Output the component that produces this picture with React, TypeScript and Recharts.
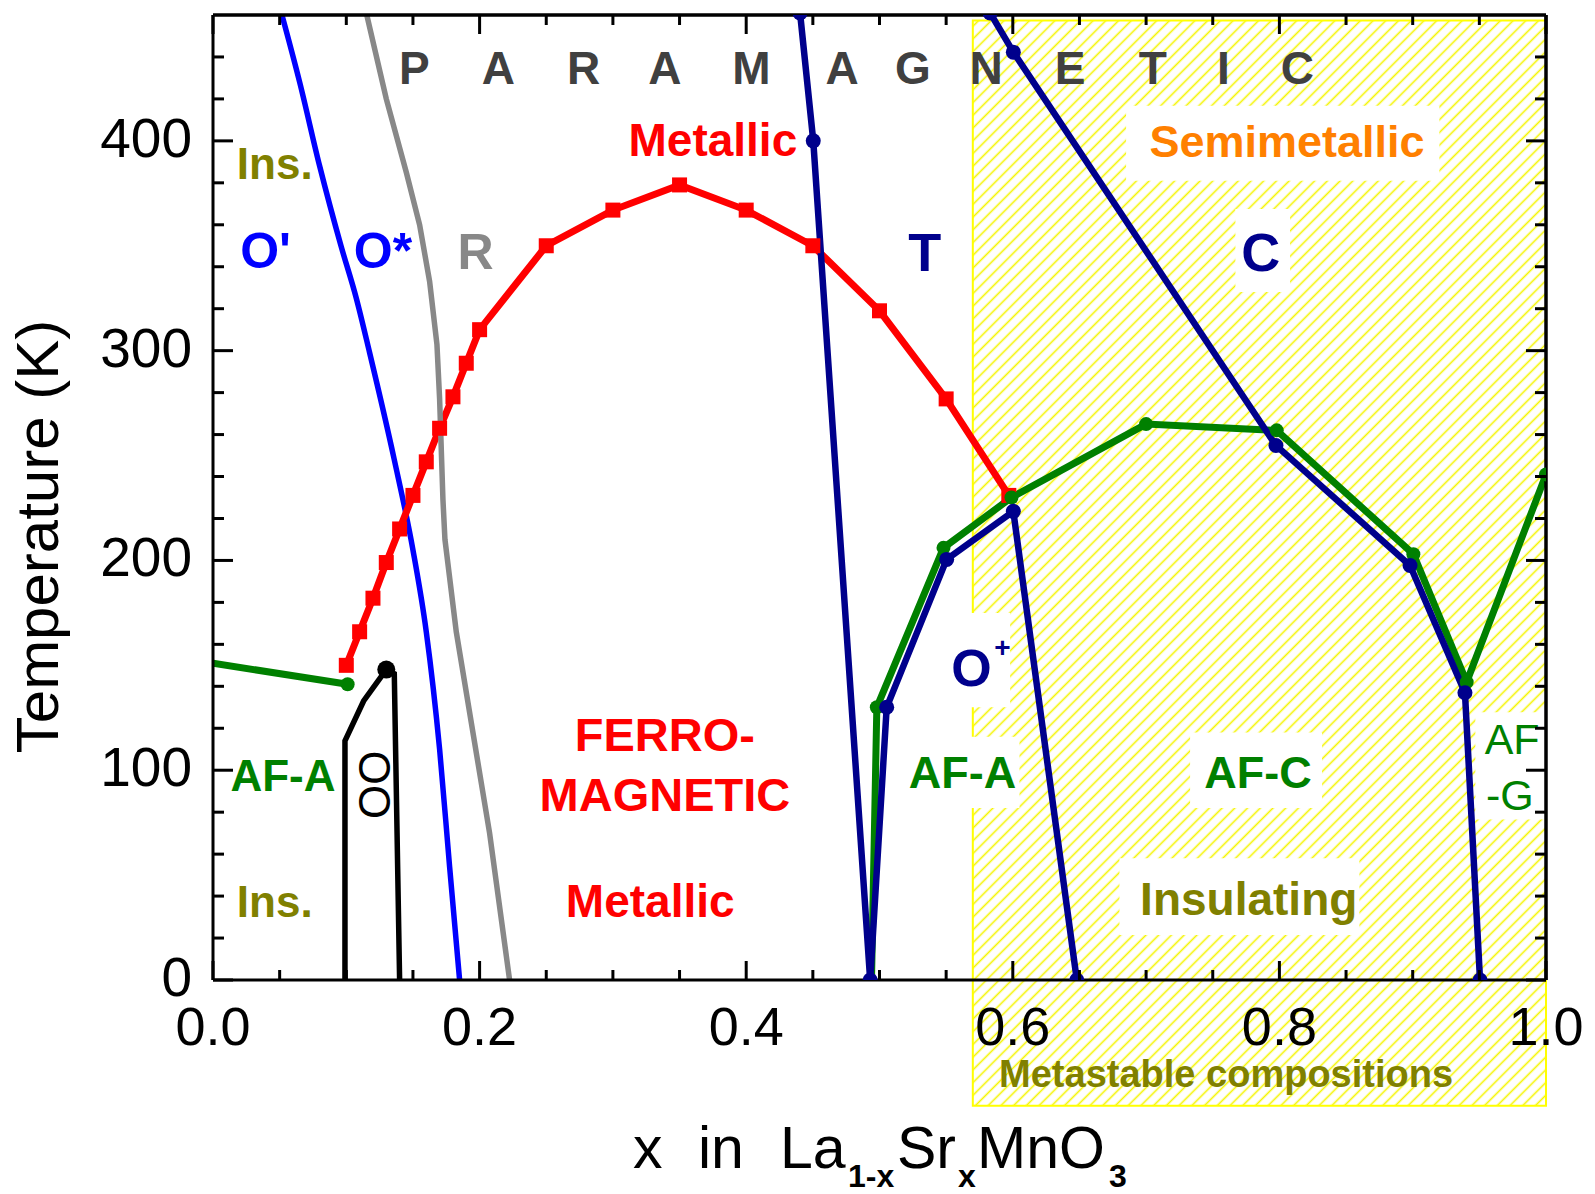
import React from 'react';
import { LineChart, Line, XAxis, YAxis, ReferenceArea, ReferenceDot, ReferenceLine, Label } from 'recharts';

const FONT = '"Liberation Sans", Arial, Helvetica, sans-serif';

// ---------- tick values ----------
const xTicks = [0, 0.05, 0.1, 0.15, 0.2, 0.25, 0.3, 0.35, 0.4, 0.45, 0.5, 0.55, 0.6, 0.65, 0.7, 0.75, 0.8, 0.85, 0.9, 0.95, 1.0];
const xMajor = [0, 0.2, 0.4, 0.6, 0.8, 1.0];
const yTicks = [0, 20, 40, 60, 80, 100, 120, 140, 160, 180, 200, 220, 240, 260, 280, 300, 320, 340, 360, 380, 400, 420, 440];
const yMajor = [0, 100, 200, 300, 400];

// ---------- series (x, T[K]) ----------
const ferroTc: [number, number][] = [
  [0.10, 150], [0.11, 166], [0.12, 182], [0.13, 199], [0.14, 215], [0.15, 231], [0.16, 247],
  [0.17, 263], [0.18, 278], [0.19, 294], [0.20, 310], [0.25, 350], [0.30, 367], [0.35, 379],
  [0.40, 367], [0.45, 350], [0.50, 319], [0.55, 277], [0.597, 231],
];
const oPrimeBoundary: [number, number][] = [
  [0.0513, 461], [0.065, 428], [0.080, 388], [0.096, 350], [0.1075, 325], [0.1175, 299], [0.136, 248],
  [0.150, 205], [0.160, 166], [0.170, 110], [0.1775, 54], [0.185, 0],
];
const rhombBoundary: [number, number][] = [
  [0.115, 461], [0.130, 420], [0.145, 385], [0.155, 360], [0.1625, 333], [0.168, 303],
  [0.170, 277], [0.1725, 229], [0.174, 210], [0.1825, 166], [0.195, 118], [0.2075, 70], [0.2225, 0],
];
const orbitalOrder: [number, number][] = [
  [0.099, 0], [0.099, 114], [0.113, 133], [0.130, 148], [0.136, 146], [0.140, 0],
];
const afaLeft: [number, number][] = [[0.0, 151], [0.101, 141]];
const afTn: [number, number][] = [
  [0.494, 0], [0.498, 130], [0.548, 206], [0.599, 230], [0.700, 265], [0.798, 262],
  [0.9005, 203], [0.9405, 142], [1.0, 241],
];
const structTO: [number, number][] = [
  [0.4404, 461], [0.4503, 400], [0.493, 0], [0.5054, 130], [0.5504, 200.5], [0.6004, 223.4], [0.648, 0],
];
const structTC: [number, number][] = [
  [0.583, 461], [0.6004, 442.3], [0.7974, 254.8], [0.898, 197.6], [0.9392, 136.9], [0.9505, 0],
];

const toPts = (a: [number, number][]) => a.map(([x, T]) => ({ x, T }));

// ---------- annotations ----------
type Ann = { t: string; x: number; y: number; c: string; s: number; b?: boolean; a?: 'start' | 'middle' | 'end'; rot?: boolean };
const paraLetters = ['P', 'A', 'R', 'A', 'M', 'A', 'G', 'N', 'E', 'T', 'I', 'C'];
const paraX = [0.151, 0.214, 0.278, 0.339, 0.404, 0.472, 0.525, 0.580, 0.643, 0.705, 0.758, 0.8135];

const annotations: Ann[] = [
  { t: 'Ins.', x: 0.0463, y: 382, c: '#808000', s: 44, b: true },
  { t: "O'", x: 0.0394, y: 339.4, c: '#0000ff', s: 50, b: true },
  { t: 'O*', x: 0.1275, y: 339.4, c: '#0000ff', s: 50, b: true },
  { t: 'R', x: 0.197, y: 339, c: '#888888', s: 50, b: true },
  { t: 'Metallic', x: 0.375, y: 393, c: '#ff0000', s: 46, b: true },
  { t: 'Semimetallic', x: 0.8057, y: 392.4, c: '#ff8000', s: 45, b: true },
  { t: 'T', x: 0.534, y: 338, c: '#00008c', s: 54, b: true },
  { t: 'C', x: 0.786, y: 338, c: '#00008c', s: 54, b: true },
  { t: 'FERRO-', x: 0.339, y: 109.3, c: '#ff0000', s: 47, b: true },
  { t: 'MAGNETIC', x: 0.339, y: 80.7, c: '#ff0000', s: 47, b: true },
  { t: 'Metallic', x: 0.328, y: 29.8, c: '#ff0000', s: 46, b: true },
  { t: 'AF-A', x: 0.0525, y: 89.9, c: '#008000', s: 44, b: true },
  { t: 'Ins.', x: 0.0463, y: 30.2, c: '#808000', s: 44, b: true },
  { t: 'OO', x: 0.1213, y: 93.1, c: '#000000', s: 44, rot: true },
  { t: 'O', x: 0.569, y: 140, c: '#00008c', s: 52, b: true },
  { t: '+', x: 0.5923, y: 154, c: '#00008c', s: 28, b: true },
  { t: 'AF-A', x: 0.5623, y: 91.5, c: '#008000', s: 45, b: true },
  { t: 'AF-C', x: 0.784, y: 91.6, c: '#008000', s: 45, b: true },
  { t: 'AF', x: 0.954, y: 107.6, c: '#008000', s: 43, a: 'start' },
  { t: '-G', x: 0.955, y: 81.1, c: '#008000', s: 43, a: 'start' },
  { t: 'Insulating', x: 0.777, y: 31, c: '#808000', s: 46, b: true },
  { t: 'Metastable compositions', x: 0.76, y: -50.9, c: '#808000', s: 38, b: true },
  ...paraLetters.map((t, i) => ({ t, x: paraX[i], y: 427, c: '#404040', s: 46, b: true })),
];

// white backgrounds behind labels in hatched region [x1, x2, T1, T2]
const labelBoxes: [number, number, number, number][] = [
  [0.685, 0.920, 381, 416.8],
  [0.767, 0.808, 328, 367.5],
  [0.565, 0.598, 130, 175],
  [0.565, 0.605, 82, 116],
  [0.733, 0.832, 82, 118],
  [0.947, 1.0, 76.5, 127.6],
  [0.680, 0.860, 21.5, 58],
];

const isIn = (v: number, arr: number[]) => arr.some((m) => Math.abs(m - v) < 1e-6);

const BottomTick = (p: any) => {
  const { x, y, payload } = p;
  const major = isIn(payload.value, xMajor);
  return (
    <g>
      <line x1={x} x2={x} y1={y} y2={y - (major ? 19 : 10)} stroke="#000" strokeWidth={3} />
      {major && (
        <text x={x} y={y + 65} textAnchor="middle" fontSize={54} fontFamily={FONT} fill="#000">
          {payload.value.toFixed(1)}
        </text>
      )}
    </g>
  );
};
const TopTick = (p: any) => {
  const { x, y, payload } = p;
  const major = isIn(payload.value, xMajor);
  return <line x1={x} x2={x} y1={y} y2={y + (major ? 19 : 10)} stroke="#000" strokeWidth={3} />;
};
const LeftTick = (p: any) => {
  const { x, y, payload } = p;
  const major = isIn(payload.value, yMajor);
  return (
    <g>
      <line x1={x} x2={x + (major ? 20 : 11)} y1={y} y2={y} stroke="#000" strokeWidth={3} />
      {major && (
        <text x={x - 21} y={y + 16} textAnchor="end" fontSize={55} fontFamily={FONT} fill="#000">
          {payload.value}
        </text>
      )}
    </g>
  );
};
const RightTick = (p: any) => {
  const { x, y, payload } = p;
  const major = isIn(payload.value, yMajor);
  return <line x1={x} x2={x - (major ? 20 : 11)} y1={y} y2={y} stroke="#000" strokeWidth={3} />;
};

const XTitle = (props: any) => {
  const vb = props.viewBox || { x: 213, y: 980 };
  const bx = vb.x;
  const by = vb.y;
  const base = by + 188;
  const sub = by + 207;
  const common = { fontFamily: FONT, fill: '#000' };
  return (
    <g>
      <text x={bx + 420} y={base} fontSize={59} {...common}>x</text>
      <text x={bx + 485} y={base} fontSize={59} {...common}>in</text>
      <text x={bx + 567} y={base} fontSize={59} {...common}>La</text>
      <text x={bx + 635} y={sub} fontSize={32} fontWeight="bold" {...common}>1-x</text>
      <text x={bx + 684} y={base} fontSize={59} {...common}>Sr</text>
      <text x={bx + 745} y={sub} fontSize={32} fontWeight="bold" {...common}>x</text>
      <text x={bx + 764} y={base} fontSize={59} {...common}>MnO</text>
      <text x={bx + 896} y={sub} fontSize={32} fontWeight="bold" {...common}>3</text>
    </g>
  );
};

const YTitle = (props: any) => {
  const vb = props.viewBox || { x: 113, y: 15, width: 100, height: 965 };
  const cx = vb.x - 55;
  const cy = vb.y + vb.height / 2 + 39;
  return (
    <text x={cx} y={cy} transform={`rotate(-90, ${cx}, ${cy})`} textAnchor="middle" fontSize={60} fontFamily={FONT} fill="#000">
      Temperature (K)
    </text>
  );
};

const squareDot = (color: string, size: number) => (p: any) => {
  if (p.cx == null || p.cy == null) return <g key={`s${p.index}`} />;
  return <rect key={`s${p.index}`} x={p.cx - size / 2} y={p.cy - size / 2} width={size} height={size} fill={color} />;
};
const circleDot = (color: string, r: number, show: (i: number) => boolean) => (p: any) => {
  if (p.cx == null || p.cy == null || !show(p.index)) return <g key={`c${p.index}`} />;
  return <circle key={`c${p.index}`} cx={p.cx} cy={p.cy} r={r} fill={color} />;
};

const RED = '#ff0000';
const BLUE = '#0000ff';
const NAVY = '#00008c';
const GREEN = '#008000';
const GRAY = '#888888';

export default function App() {
  return (
    <div style={{ width: 1595, height: 1194, background: '#fff' }}>
      <style>{'body{margin:0;background:#fff}'}</style>
      <LineChart width={1595} height={1194} margin={{ top: 14, right: 48, left: 113, bottom: 114 }}>
        <defs>
          <pattern id="hatch" patternUnits="userSpaceOnUse" width={9} height={9} patternTransform="rotate(45)">
            <line x1={4.5} y1={-1} x2={4.5} y2={10} stroke="#f5f500" strokeWidth={1.6} />
          </pattern>
        </defs>
        <XAxis
          xAxisId={0}
          dataKey="x"
          type="number"
          domain={[0, 1]}
          allowDataOverflow
          ticks={xTicks}
          interval={0}
          tickSize={0}
          tickMargin={0}
          tickLine={false}
          tick={<BottomTick />}
          axisLine={{ stroke: '#000', strokeWidth: 3 }}
          height={100}
        >
          <Label content={<XTitle />} />
        </XAxis>
        <XAxis
          xAxisId="top"
          orientation="top"
          dataKey="x"
          type="number"
          domain={[0, 1]}
          allowDataOverflow
          ticks={xTicks}
          interval={0}
          tickSize={0}
          tickMargin={0}
          tickLine={false}
          tick={<TopTick />}
          axisLine={{ stroke: '#000', strokeWidth: 3 }}
          height={1}
        />
        <YAxis
          yAxisId={0}
          type="number"
          domain={[0, 460]}
          allowDataOverflow
          ticks={yTicks}
          interval={0}
          tickSize={0}
          tickMargin={0}
          tickLine={false}
          tick={<LeftTick />}
          axisLine={{ stroke: '#000', strokeWidth: 3 }}
          width={100}
        >
          <Label content={<YTitle />} />
        </YAxis>
        <YAxis
          yAxisId="right"
          orientation="right"
          type="number"
          domain={[0, 460]}
          allowDataOverflow
          ticks={yTicks}
          interval={0}
          tickSize={0}
          tickMargin={0}
          tickLine={false}
          tick={<RightTick />}
          axisLine={{ stroke: '#000', strokeWidth: 3 }}
          width={1}
        />

        <ReferenceArea
          x1={0.57}
          x2={1.0}
          y1={-60}
          y2={457.4}
          ifOverflow="visible"
          fill="url(#hatch)"
          fillOpacity={1}
          stroke="#ffff00"
          strokeWidth={2}
        />
        {labelBoxes.map(([x1, x2, y1, y2], i) => (
          <ReferenceArea key={`box${i}`} x1={x1} x2={x2} y1={y1} y2={y2} ifOverflow="visible" fill="#ffffff" fillOpacity={1} stroke="none" />
        ))}

        {/* hidden series bound to the mirror axes so that they are drawn */}
        <Line xAxisId="top" yAxisId="right" data={toPts(ferroTc)} dataKey="T" stroke="none" strokeOpacity={0} dot={false} activeDot={false} isAnimationActive={false} />

        <Line data={toPts(oPrimeBoundary)} dataKey="T" type="monotone" stroke={BLUE} strokeWidth={5.5} dot={false} isAnimationActive={false} />
        <Line data={toPts(ferroTc)} dataKey="T" type="linear" stroke={RED} strokeWidth={7} dot={squareDot(RED, 15)} isAnimationActive={false} />
        <Line data={toPts(rhombBoundary)} dataKey="T" type="linear" stroke={GRAY} strokeWidth={5.5} dot={false} isAnimationActive={false} />
        <Line data={toPts(orbitalOrder)} dataKey="T" type="linear" stroke="#000" strokeWidth={5.5} dot={circleDot('#000', 9, (i) => i === 3)} isAnimationActive={false} />
        <Line data={toPts(afaLeft)} dataKey="T" type="linear" stroke={GREEN} strokeWidth={7} dot={circleDot(GREEN, 7, (i) => i > 0)} isAnimationActive={false} />
        <Line data={toPts(afTn)} dataKey="T" type="linear" stroke={GREEN} strokeWidth={7} dot={circleDot(GREEN, 7, (i) => i > 0)} isAnimationActive={false} />
        <Line data={toPts(structTO)} dataKey="T" type="linear" stroke={NAVY} strokeWidth={6.5} dot={circleDot(NAVY, 7.5, () => true)} isAnimationActive={false} />
        <Line data={toPts(structTC)} dataKey="T" type="linear" stroke={NAVY} strokeWidth={6.5} dot={circleDot(NAVY, 7.5, () => true)} isAnimationActive={false} />

        <ReferenceLine y={460} stroke="#000" strokeWidth={3} ifOverflow="visible" />
        <ReferenceLine x={1} stroke="#000" strokeWidth={3} ifOverflow="visible" />

        {annotations.map((a, i) => (
          <ReferenceDot
            key={`ann${i}`}
            x={a.x}
            y={a.y}
            r={0}
            ifOverflow="visible"
            shape={(p: any) =>
              a.rot ? (
                <text
                  x={p.cx}
                  y={p.cy}
                  transform={`rotate(-90, ${p.cx}, ${p.cy})`}
                  textAnchor="middle"
                  dominantBaseline="central"
                  fontSize={a.s}
                  fontFamily={FONT}
                  fill={a.c}
                >
                  {a.t}
                </text>
              ) : (
                <text
                  x={p.cx}
                  y={p.cy}
                  textAnchor={a.a || 'middle'}
                  fontSize={a.s}
                  fontWeight={a.b ? 'bold' : 'normal'}
                  fontFamily={FONT}
                  fill={a.c}
                >
                  {a.t}
                </text>
              )
            }
          />
        ))}
      </LineChart>
    </div>
  );
}
